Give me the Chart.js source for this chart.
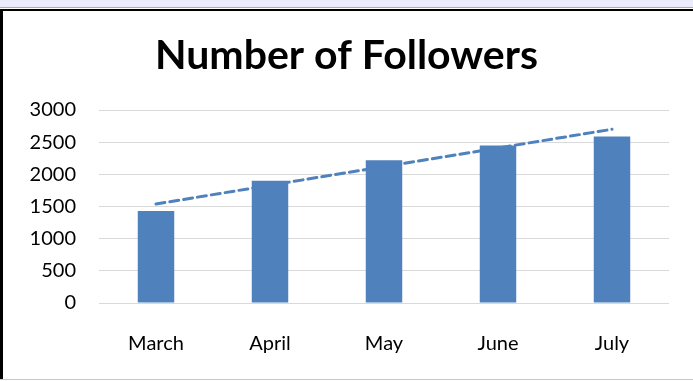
<!DOCTYPE html>
<html>
<head>
<meta charset="utf-8">
<script src="https://cdn.jsdelivr.net/npm/chart.js@4"></script>
<style>
  body { margin: 0; background: #fff; }
  #wrap { position: relative; width: 693px; height: 381px; overflow: hidden; }
  #chartBox { position: absolute; left: 0; top: 0; width: 693px; height: 381px; }
  .strip { position: absolute; left: 0; top: 0; width: 693px; height: 7px; background: #ebebfb; }
  .stripLine { position: absolute; left: 0; top: 7px; width: 693px; height: 1px; background: #a9a9b8; }
  .frameTop { position: absolute; left: 0; top: 9px; width: 693px; height: 2px; background: #000; }
  .frameLeft { position: absolute; left: 0; top: 9px; width: 3px; height: 371px; background: #000; }
  .frameBottom { position: absolute; left: 0; top: 379px; width: 693px; height: 1px; background: #c8c8c8; }
</style>
</head>
<body>
<div id="wrap">
  <div id="chartBox"><canvas id="followersChart"></canvas></div>
  <div class="strip"></div>
  <div class="stripLine"></div>
  <div class="frameTop"></div>
  <div class="frameLeft"></div>
  <div class="frameBottom"></div>
</div>
<script>
// Chart data
const months = ["March", "April", "May", "June", "July"];
const followers = [1430, 1900, 2220, 2450, 2590];
// linear trendline, end points
const trendline = [1540, null, null, null, 2700];
const yTicks = [0, 500, 1000, 1500, 2000, 2500, 3000];

const FONT = "Lato, 'Open Sans', sans-serif";

const ctx = document.getElementById('followersChart').getContext('2d');
new Chart(ctx, {
  type: 'bar',
  data: {
    labels: months,
    datasets: [
      {
        type: 'line',
        label: 'Linear (Followers)',
        data: trendline,
        spanGaps: true,
        borderColor: '#4f81bd',
        borderWidth: 3,
        borderDash: [9, 5],
        borderCapStyle: 'round',
        pointRadius: 0,
        fill: false,
        order: 0
      },
      {
        label: 'Followers',
        data: followers,
        backgroundColor: '#4f81bd',
        barPercentage: 0.32,
        categoryPercentage: 1,
        order: 1
      }
    ]
  },
  options: {
    responsive: true,
    maintainAspectRatio: false,
    animation: false,
    layout: { padding: { top: 20, right: 24, bottom: 0, left: 24 } },
    plugins: {
      legend: { display: false },
      tooltip: { enabled: false },
      title: {
        display: true,
        text: 'Number of Followers',
        color: '#000',
        font: { family: FONT, size: 41, weight: 'bold', lineHeight: 1.2 },
        padding: { top: 11.4, bottom: 29.4 }
      }
    },
    scales: {
      x: {
        grid: { display: false },
        border: { display: false },
        ticks: {
          color: '#000',
          padding: 21,
          font: { family: FONT, size: 20 }
        },
        afterFit: (scale) => { scale.height = 78; }
      },
      y: {
        min: 0,
        max: 3000,
        afterBuildTicks: (scale) => { scale.ticks = yTicks.map(v => ({ value: v })); },
        grid: { color: '#d9d9d9', lineWidth: 1, drawTicks: false },
        border: { display: false },
        ticks: {
          color: '#000',
          padding: 23,
          font: { family: FONT, size: 20 },
          callback: (value) => String(value)
        },
        afterFit: (scale) => { scale.width = 75; }
      }
    }
  }
});
</script>
</body>
</html>
